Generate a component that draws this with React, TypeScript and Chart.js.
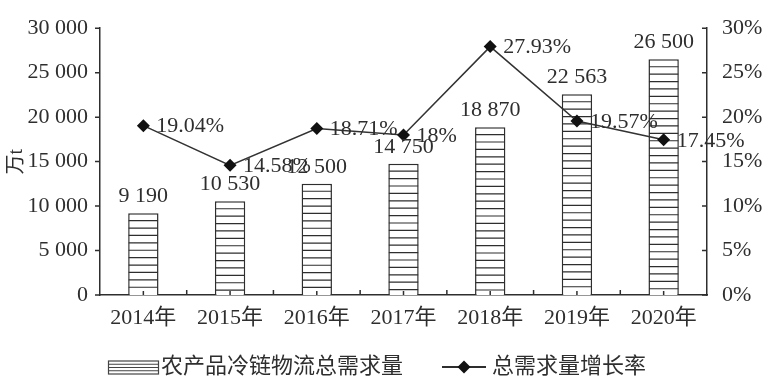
import React, { useEffect, useRef } from 'react';
import { Chart, registerables } from 'chart.js';

Chart.register(...registerables);

const years = ['2014年', '2015年', '2016年', '2017年', '2018年', '2019年', '2020年'];
const demand = [9190, 10530, 12500, 14750, 18870, 22563, 26500];
const growth = [19.04, 14.58, 18.71, 18, 27.93, 19.57, 17.45];
const demandLabel = '农产品冷链物流总需求量';
const growthLabel = '总需求量增长率';
const yAxisTitle = '万t';

const FONT = "'Liberation Serif', 'Noto Sans CJK SC', serif";
const INK = '#2e2e2e';

const fmt = (v: number) => String(v).replace(/\B(?=(\d{3})+(?!\d))/g, ' ');
const pct = (v: number) => `${v}%`;

function diamond(ctx: CanvasRenderingContext2D, x: number, y: number, r: number) {
  ctx.beginPath();
  ctx.moveTo(x, y - r);
  ctx.lineTo(x + r, y);
  ctx.lineTo(x, y + r);
  ctx.lineTo(x - r, y);
  ctx.closePath();
  ctx.fill();
}

const decor = {
  id: 'decor',
  afterDatasetDraw(chart: any, args: any) {
    if (args.index !== 0) return;
    const ctx = chart.ctx as CanvasRenderingContext2D;
    const meta = chart.getDatasetMeta(0);
    ctx.save();
    ctx.strokeStyle = INK;
    ctx.lineWidth = 1.2;
    meta.data.forEach((bar: any) => {
      const { x, y, base, width } = bar.getProps(['x', 'y', 'base', 'width'], true);
      const l = x - width / 2 + 0.5;
      const r = x + width / 2 - 0.5;
      ctx.beginPath();
      for (let yy = y + 7.4; yy < base - 1; yy += 7.4) {
        ctx.moveTo(l, yy);
        ctx.lineTo(r, yy);
      }
      ctx.stroke();
    });
    ctx.restore();
  },
  afterDraw(chart: any) {
    const ctx = chart.ctx as CanvasRenderingContext2D;
    const { x, y, y1 } = chart.scales;
    const area = chart.chartArea;
    ctx.save();
    ctx.strokeStyle = INK;
    ctx.lineWidth = 1.5;
    ctx.beginPath();
    // left axis ticks (outward)
    y.ticks.forEach((t: any) => {
      const py = y.getPixelForValue(t.value);
      ctx.moveTo(area.left - 5, py);
      ctx.lineTo(area.left, py);
    });
    // right axis ticks (inward)
    y1.ticks.forEach((t: any) => {
      const py = y1.getPixelForValue(t.value);
      ctx.moveTo(area.right - 5, py);
      ctx.lineTo(area.right, py);
    });
    // x axis ticks at category boundaries (inward)
    const n = years.length;
    for (let i = 1; i < n; i++) {
      const px = (x.getPixelForTick(i - 1) + x.getPixelForTick(i)) / 2;
      ctx.moveTo(px, area.bottom - 5);
      ctx.lineTo(px, area.bottom);
    }
    for (let i = 0; i < n; i++) {
      const px = x.getPixelForTick(i);
      ctx.moveTo(px, area.bottom - 4);
      ctx.lineTo(px, area.bottom);
    }
    ctx.stroke();

    // data labels
    ctx.fillStyle = INK;
    ctx.font = `22px ${FONT}`;
    ctx.textBaseline = 'middle';
    ctx.textAlign = 'center';
    const barMeta = chart.getDatasetMeta(0);
    barMeta.data.forEach((bar: any, i: number) => {
      ctx.fillText(fmt(demand[i]), bar.x, bar.y - 17);
    });
    ctx.textAlign = 'left';
    const lineMeta = chart.getDatasetMeta(1);
    lineMeta.data.forEach((pt: any, i: number) => {
      ctx.fillText(pct(growth[i]), pt.x + 13, pt.y + 1);
    });

    // legend
    const ly = 367;
    ctx.strokeStyle = '#444';
    ctx.lineWidth = 1.2;
    ctx.strokeRect(108.5, 361, 50, 13);
    ctx.beginPath();
    for (let k = 1; k <= 3; k++) {
      ctx.moveTo(108.5, 361 + k * 3.25);
      ctx.lineTo(158.5, 361 + k * 3.25);
    }
    ctx.stroke();
    ctx.font = `22px ${FONT}`;
    ctx.fillStyle = INK;
    ctx.fillText(demandLabel, 161, ly);

    ctx.strokeStyle = INK;
    ctx.lineWidth = 2;
    ctx.beginPath();
    ctx.moveTo(442, ly);
    ctx.lineTo(486, ly);
    ctx.stroke();
    ctx.fillStyle = '#111';
    diamond(ctx, 464, ly, 6.5);
    ctx.fillStyle = INK;
    ctx.fillText(growthLabel, 492, ly);
    ctx.restore();
  },
};

export default function App() {
  const ref = useRef<HTMLCanvasElement | null>(null);
  useEffect(() => {
    document.body.style.margin = '0';
    const canvas = ref.current;
    if (!canvas) return;
    const chart = new Chart(canvas, {
      type: 'bar',
      data: {
        labels: years,
        datasets: [
          {
            type: 'bar',
            label: demandLabel,
            data: demand,
            yAxisID: 'y',
            backgroundColor: '#ffffff',
            borderColor: INK,
            borderWidth: 1.5,
            barPercentage: 0.35,
            categoryPercentage: 1,
            order: 1,
          } as any,
          {
            type: 'line',
            label: growthLabel,
            data: growth,
            yAxisID: 'y1',
            borderColor: '#333',
            borderWidth: 1.5,
            pointStyle: 'rectRot',
            pointRadius: 6.5,
            pointBackgroundColor: '#111',
            pointBorderColor: '#111',
            pointBorderWidth: 0,
            fill: false,
            tension: 0,
            order: 0,
          } as any,
        ],
      },
      options: {
        animation: false,
        responsive: false,
        devicePixelRatio: 1,
        layout: { padding: { top: 19, bottom: 50, left: 0, right: 0 } },
        plugins: {
          legend: { display: false },
          tooltip: { enabled: false },
        },
        scales: {
          x: {
            grid: { display: false, drawTicks: false },
            border: { display: true, color: INK, width: 1.5 },
            ticks: {
              font: { family: FONT, size: 22 },
              color: INK,
              padding: 10,
              maxRotation: 0,
              autoSkip: false,
            },
            afterFit: (s: any) => {
              s.height = 45;
            },
          },
          y: {
            position: 'left',
            min: 0,
            max: 30000,
            grid: { display: false, drawTicks: false },
            border: { display: true, color: INK, width: 1.5 },
            ticks: {
              stepSize: 5000,
              callback: (v: any) => fmt(Number(v)),
              font: { family: FONT, size: 22 },
              color: INK,
              padding: 12,
            },
            title: {
              display: true,
              text: yAxisTitle,
              font: { family: FONT, size: 20 },
              color: INK,
              padding: { top: 5, bottom: 0 },
            },
            afterFit: (s: any) => {
              s.width = 100;
            },
          },
          y1: {
            position: 'right',
            min: 0,
            max: 30,
            grid: { display: false, drawTicks: false },
            border: { display: true, color: INK, width: 1.5 },
            ticks: {
              stepSize: 5,
              callback: (v: any) => pct(Number(v)),
              font: { family: FONT, size: 22 },
              color: INK,
              padding: 15,
            },
            afterFit: (s: any) => {
              s.width = 76;
            },
          },
        },
      } as any,
      plugins: [decor],
    });
    return () => chart.destroy();
  }, []);
  return (
    <div style={{ width: 783, height: 390, background: '#fff' }}>
      <canvas ref={ref} width={783} height={390} style={{ display: 'block', width: 783, height: 390 }} />
    </div>
  );
}
